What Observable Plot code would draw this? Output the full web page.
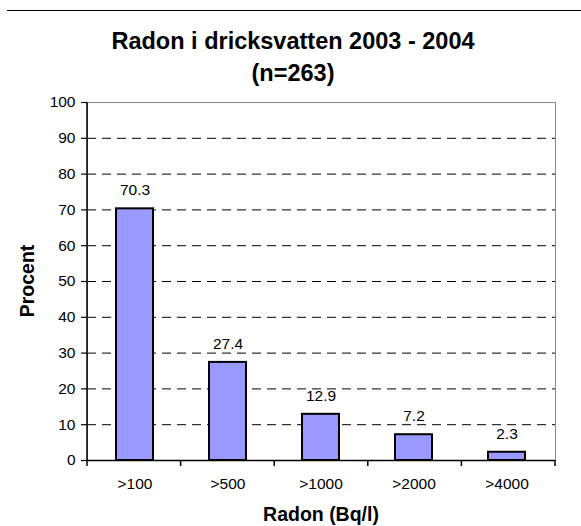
<!DOCTYPE html>
<html>
<head>
<meta charset="utf-8">
<script src="https://cdn.jsdelivr.net/npm/d3@7"></script>
<script src="https://cdn.jsdelivr.net/npm/@observablehq/plot@0.6"></script>
<style>
  body { margin: 0; background: #fff; font-family: "Liberation Sans", Arial, sans-serif; }
  #wrap { position: relative; width: 581px; height: 526px; }
  #topline { position: absolute; left: 7px; top: 10px; width: 574px; border-top: 1.5px solid #000; }
</style>
</head>
<body>
<div id="wrap"><div id="topline"></div><div id="chart"></div></div>
<script>
const categories = [">100", ">500", ">1000", ">2000", ">4000"];
const values = [70.3, 27.4, 12.9, 7.2, 2.3];
const yTicks = [0, 10, 20, 30, 40, 50, 60, 70, 80, 90, 100];
const gridTicks = [10, 20, 30, 40, 50, 60, 70, 80, 90];
const titleLines = ["Radon i dricksvatten 2003 - 2004", "(n=263)"];
const xLabel = "Radon (Bq/l)";
const yLabel = "Procent";

const data = categories.map((c, i) => ({cat: c, value: values[i]}));
const FONT = "'Liberation Sans', Arial, sans-serif";

const chart = Plot.plot({
  width: 581,
  height: 526,
  marginTop: 102,
  marginBottom: 66,
  marginLeft: 87,
  marginRight: 26,
  style: {fontFamily: FONT, fontSize: "15.5px", color: "#000", background: "#fff"},
  x: {domain: categories, paddingInner: 0.6, paddingOuter: 0.3, align: 0.5},
  y: {domain: [0, 100]},
  marks: [
    Plot.ruleY(gridTicks, {stroke: "#000", strokeWidth: 1, strokeDasharray: "9,6"}),
    Plot.frame({stroke: "#888", strokeWidth: 1}),
    Plot.barY(data, {x: "cat", y: "value", fill: "#9999ff", stroke: "#000", strokeWidth: 2}),
    Plot.text(data, {x: "cat", y: "value", text: d => d.value.toFixed(1), dy: -18.5, fontSize: 15.5, fill: "#000"}),
    Plot.axisY({ticks: yTicks, tickSize: 6, tickPadding: 6, fontSize: 15.5, label: null, stroke: "#000", strokeWidth: 1.2}),
    Plot.axisX({tickSize: 0, tickPadding: 17, fontSize: 15.5, label: null}),
    Plot.ruleY([0], {stroke: "#000", strokeWidth: 1.5})
  ]
});

const svg = d3.select(chart);
const xs = chart.scale("x");
const ys = chart.scale("y");
const left = xs.range[0];
const right = xs.range[1];
const y0 = ys.apply(0);
const y100 = ys.apply(100);

// left axis line
svg.append("line").attr("x1", left).attr("x2", left).attr("y1", y100).attr("y2", y0)
  .attr("stroke", "#000").attr("stroke-width", 1.5);
// x ticks at category boundaries
for (let k = 0; k <= categories.length; k++) {
  const x = left + (right - left) * k / categories.length;
  svg.append("line").attr("x1", x).attr("x2", x).attr("y1", y0).attr("y2", y0 + 6)
    .attr("stroke", "#000").attr("stroke-width", 1.5);
}
// titles
titleLines.forEach((t, i) => {
  svg.append("text").attr("x", 293).attr("y", 49 + i * 32)
    .attr("text-anchor", "middle")
    .attr("font-family", FONT)
    .attr("font-size", 23.5).attr("font-weight", "bold").attr("fill", "#000").text(t);
});
svg.append("text").attr("x", (left + right) / 2).attr("y", 520.5)
  .attr("text-anchor", "middle").attr("font-family", FONT)
  .attr("font-size", 19.5).attr("font-weight", "bold").attr("fill", "#000").text(xLabel);
svg.append("text").attr("transform", `translate(33.5,${(y0 + y100) / 2}) rotate(-90)`)
  .attr("text-anchor", "middle").attr("font-family", FONT)
  .attr("font-size", 19.5).attr("font-weight", "bold").attr("fill", "#000").text(yLabel);

document.getElementById("chart").appendChild(chart);
</script>
</body>
</html>
